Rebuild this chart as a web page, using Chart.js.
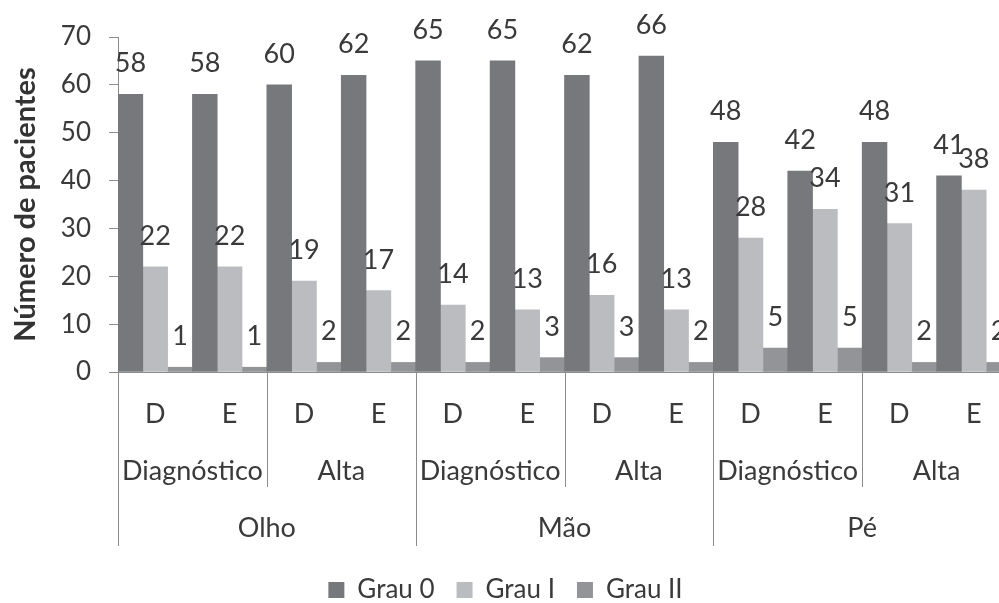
<!DOCTYPE html>
<html>
<head>
<meta charset="utf-8">
<script src="https://cdn.jsdelivr.net/npm/chart.js@4.4.1/dist/chart.umd.min.js"></script>
<style>
  html, body { margin: 0; padding: 0; background: #fff; overflow: hidden; }
  #wrap { width: 1020px; height: 613px; position: relative; }
</style>
</head>
<body>
<div id="wrap"><canvas id="chart"></canvas></div>
<script>
// ── DATA ────────────────────────────────────────────────────────────────────
const sides = ['D', 'E', 'D', 'E', 'D', 'E', 'D', 'E', 'D', 'E', 'D', 'E'];
const phases = ['Diagnóstico', 'Alta', 'Diagnóstico', 'Alta', 'Diagnóstico', 'Alta'];
const sites = ['Olho', 'Mão', 'Pé'];
const grau0 = [58, 58, 60, 62, 65, 65, 62, 66, 48, 42, 48, 41];
const grau1 = [22, 22, 19, 17, 14, 13, 16, 13, 28, 34, 31, 38];
const grau2 = [1, 1, 2, 2, 2, 3, 3, 2, 5, 5, 2, 2];
const seriesNames = ['Grau 0', 'Grau I', 'Grau II'];
const seriesColors = ['#77787c', '#bbbcbf', '#939497'];

const FONT = 'Lato, "Open Sans", sans-serif';
const TEXT = '#3a3a3a';
const AXIS = '#8c8c8c';

// ── PLUGINS ─────────────────────────────────────────────────────────────────
const valueLabels = {
  id: 'valueLabels',
  afterDatasetsDraw(chart) {
    const ctx = chart.ctx;
    ctx.save();
    ctx.font = '27px ' + FONT;
    ctx.fillStyle = TEXT;
    ctx.textAlign = 'center';
    ctx.textBaseline = 'alphabetic';
    chart.data.datasets.forEach((ds, i) => {
      chart.getDatasetMeta(i).data.forEach((bar, j) => {
        ctx.fillText(String(ds.data[j]), bar.x, bar.y - 22);
      });
    });
    ctx.restore();
  }
};

const groupAxis = {
  id: 'groupAxis',
  afterDraw(chart) {
    const ctx = chart.ctx;
    const x = chart.scales.x;
    const base = chart.chartArea.bottom;
    const n = sides.length;
    const step = x.getPixelForValue(1) - x.getPixelForValue(0);
    const edge = i => x.getPixelForValue(0) - step / 2 + i * step;
    ctx.save();
    ctx.strokeStyle = AXIS;
    ctx.lineWidth = 1;
    for (let i = 0; i <= n; i += 2) {
      const px = Math.round(edge(i)) + 0.5;
      ctx.beginPath();
      ctx.moveTo(px, base);
      ctx.lineTo(px, i % 4 === 0 ? 546 : 487);
      ctx.stroke();
    }
    ctx.font = '27px ' + FONT;
    ctx.fillStyle = TEXT;
    ctx.textAlign = 'center';
    ctx.textBaseline = 'middle';
    sides.forEach((s, i) => ctx.fillText(s, x.getPixelForValue(i), 414));
    phases.forEach((p, i) => ctx.fillText(p, (edge(i * 2) + edge(i * 2 + 2)) / 2, 471));
    sites.forEach((s, i) => ctx.fillText(s, (edge(i * 4) + edge(i * 4 + 4)) / 2, 528));
    ctx.restore();
  }
};

// ── CHART ───────────────────────────────────────────────────────────────────
new Chart(document.getElementById('chart').getContext('2d'), {
  type: 'bar',
  data: {
    labels: sides,
    datasets: [grau0, grau1, grau2].map((d, i) => ({
      label: seriesNames[i], data: d, backgroundColor: seriesColors[i],
      borderWidth: 0, barPercentage: 1, categoryPercentage: 1
    }))
  },
  options: {
    responsive: true, maintainAspectRatio: false, animation: false,
    layout: { padding: { top: 37, right: 9, bottom: 0, left: 0 } },
    plugins: {
      tooltip: { enabled: false },
      legend: {
        position: 'bottom',
        labels: { color: TEXT, font: { family: FONT, size: 26 }, boxWidth: 16, boxHeight: 16, padding: 22 }
      }
    },
    scales: {
      x: {
        ticks: { display: false },
        grid: { display: false },
        border: { display: true, color: AXIS },
        afterFit(scale) { scale.height = 183; }
      },
      y: {
        min: 0, max: 70,
        ticks: { stepSize: 10, color: TEXT, padding: 18, font: { family: FONT, size: 26 } },
        grid: { drawOnChartArea: false, tickLength: 9, color: AXIS },
        border: { display: true, color: AXIS },
        title: { display: true, text: 'Número de pacientes', color: '#333', padding: { top: 8 },
                 font: { family: FONT, size: 29, weight: 'bold' } },
        afterFit(scale) { scale.width = 118; }
      }
    }
  },
  plugins: [valueLabels, groupAxis]
});
</script>
</body>
</html>
